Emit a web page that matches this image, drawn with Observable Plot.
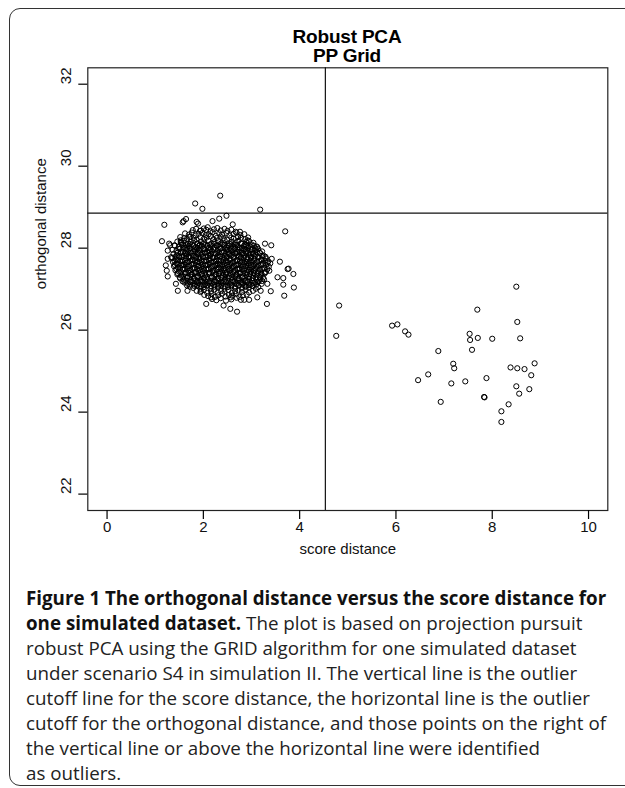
<!DOCTYPE html>
<html>
<head>
<meta charset="utf-8">
<script src="https://cdn.jsdelivr.net/npm/d3@7"></script>
<script src="https://cdn.jsdelivr.net/npm/@observablehq/plot@0.6"></script>
<style>
  html, body { margin: 0; padding: 0; background: #fff; }
  body { width: 625px; height: 788px; overflow: hidden; position: relative; }
  #border { position: absolute; left: 9px; top: 8px; width: 660px; height: 778px; border: 1.5px solid #333; border-radius: 11px; box-sizing: border-box; }
  #chart { position: absolute; left: 0; top: 0; }
  .title { position: absolute; left: 227px; width: 240px; text-align: center; font: bold 19px "Liberation Sans", Arial, sans-serif; color: #000; line-height: 20px; letter-spacing: -0.2px; }
  #caption { position: absolute; left: 26px; top: 585px; font-family: "Open Sans", sans-serif; color: #222; white-space: nowrap; }
  #caption div { height: 25px; line-height: 25px; }
  #caption b { color: #111; }
</style>
</head>
<body>
<div id="border"></div>
<div id="chart"></div>
<div class="title" style="top:27px">Robust PCA</div>
<div class="title" style="top:46px">PP Grid</div>
<div id="caption">
  <div><b>Figure 1 The orthogonal distance versus the score distance for</b></div>
  <div><b>one simulated dataset.</b> The plot is based on projection pursuit</div>
  <div>robust PCA using the GRID algorithm for one simulated dataset</div>
  <div>under scenario S4 in simulation II. The vertical line is the outlier</div>
  <div>cutoff line for the score distance, the horizontal line is the outlier</div>
  <div id="fitline">cutoff for the orthogonal distance, and those points on the right of</div>
  <div>the vertical line or above the horizontal line were identified</div>
  <div>as outliers.</div>
</div>
<script>
// Axis ticks
const xTicks = [0, 2, 4, 6, 8, 10];
const yTicks = [22, 24, 26, 28, 30, 32];
// Cutoff lines
const scoreCutoff = [4.534];
const orthCutoff = [28.856];

// Dense main cluster (score distance, orthogonal distance)
const clusterPts = [
[1.78,28.44],[1.85,28.47],[1.93,28.42],[2.01,28.48],[2.06,28.45],[2.15,28.41],[2.22,28.46],[2.29,28.49],[2.36,28.43],[2.44,28.47],[2.50,28.42],[2.58,28.45],[2.67,28.40],
[1.62,28.36],[1.70,28.33],[1.76,28.38],[1.84,28.31],[1.90,28.35],[1.98,28.37],[2.05,28.32],[2.11,28.34],[2.19,28.39],[2.26,28.30],[2.33,28.36],[2.39,28.33],[2.48,28.37],[2.54,28.31],[2.63,28.35],[2.69,28.38],[2.77,28.32],[2.85,28.34],
[1.52,28.27],[1.60,28.24],[1.66,28.22],[1.73,28.28],[1.80,28.25],[1.86,28.21],[1.94,28.27],[2.01,28.23],[2.07,28.26],[2.15,28.29],[2.21,28.22],[2.28,28.25],[2.36,28.28],[2.42,28.24],[2.49,28.21],[2.58,28.26],[2.63,28.23],[2.72,28.27],[2.78,28.25],[2.87,28.22],[2.93,28.26],
[1.46,28.16],[1.54,28.13],[1.60,28.18],[1.68,28.11],[1.74,28.15],[1.81,28.19],[1.89,28.12],[1.95,28.16],[2.02,28.14],[2.10,28.18],[2.17,28.11],[2.23,28.15],[2.31,28.17],[2.38,28.13],[2.44,28.19],[2.53,28.12],[2.59,28.16],[2.67,28.14],[2.73,28.18],[2.80,28.11],[2.89,28.15],[2.95,28.17],[3.04,28.13],
[1.58,28.09],[1.64,28.07],[1.72,28.10],[1.79,28.06],[1.87,28.11],[1.93,28.08],[2.00,28.10],[2.08,28.06],[2.14,28.09],[2.22,28.11],[2.29,28.07],[2.35,28.10],[2.43,28.08],[2.50,28.06],[2.56,28.10],[2.65,28.09],[2.71,28.07],[2.78,28.11],[2.86,28.08],[2.92,28.06],[3.00,28.09],
[1.41,28.06],[1.49,28.03],[1.55,28.08],[1.63,28.01],[1.70,28.05],[1.76,28.09],[1.84,28.02],[1.91,28.06],[1.97,28.04],[2.05,28.08],[2.12,28.01],[2.18,28.05],[2.27,28.07],[2.33,28.03],[2.40,28.09],[2.48,28.02],[2.53,28.06],[2.62,28.04],[2.68,28.08],[2.75,28.01],[2.84,28.05],[2.89,28.07],[2.98,28.03],[3.05,28.06],[3.11,28.04],
[1.52,27.99],[1.59,28.01],[1.67,27.98],[1.73,28.00],[1.81,27.97],[1.88,28.01],[1.94,27.99],[2.02,27.97],[2.09,28.00],[2.15,27.98],[2.24,28.01],[2.30,27.97],[2.37,27.99],[2.45,28.00],[2.51,27.96],[2.58,27.99],[2.66,28.01],[2.72,27.97],[2.80,28.00],[2.87,27.98],[2.93,28.01],[3.01,27.97],[3.08,27.99],
[1.36,27.96],[1.44,27.93],[1.50,27.98],[1.58,27.91],[1.65,27.95],[1.71,27.99],[1.79,27.92],[1.86,27.96],[1.92,27.94],[2.00,27.98],[2.08,27.91],[2.13,27.95],[2.21,27.97],[2.29,27.93],[2.35,27.99],[2.43,27.92],[2.49,27.96],[2.57,27.94],[2.64,27.98],[2.70,27.91],[2.79,27.95],[2.85,27.97],[2.92,27.93],[3.00,27.96],[3.07,27.94],[3.14,27.98],[3.22,27.92],
[1.47,27.89],[1.54,27.91],[1.62,27.88],[1.69,27.90],[1.76,27.87],[1.83,27.91],[1.90,27.89],[1.97,27.87],[2.04,27.90],[2.11,27.88],[2.18,27.91],[2.26,27.87],[2.32,27.89],[2.40,27.90],[2.46,27.86],[2.54,27.89],[2.61,27.91],[2.68,27.87],[2.75,27.90],[2.82,27.88],[2.89,27.91],[2.96,27.87],[3.04,27.89],[3.11,27.90],[3.18,27.88],
[1.38,27.86],[1.45,27.83],[1.53,27.88],[1.60,27.81],[1.66,27.85],[1.74,27.89],[1.81,27.82],[1.88,27.86],[1.95,27.84],[2.03,27.88],[2.10,27.81],[2.16,27.85],[2.24,27.87],[2.31,27.83],[2.38,27.89],[2.45,27.82],[2.53,27.86],[2.60,27.84],[2.66,27.88],[2.74,27.81],[2.81,27.85],[2.89,27.87],[2.95,27.83],[3.03,27.86],[3.09,27.84],[3.17,27.88],[3.25,27.82],
[1.42,27.79],[1.49,27.81],[1.56,27.78],[1.64,27.80],[1.71,27.77],[1.78,27.81],[1.85,27.79],[1.92,27.77],[1.99,27.80],[2.06,27.78],[2.14,27.81],[2.21,27.77],[2.28,27.79],[2.35,27.80],[2.42,27.76],[2.49,27.79],[2.57,27.81],[2.63,27.77],[2.71,27.80],[2.78,27.78],[2.85,27.81],[2.92,27.77],[2.99,27.79],[3.07,27.80],[3.14,27.78],[3.22,27.81],[3.29,27.79],
[1.35,27.76],[1.43,27.73],[1.50,27.78],[1.57,27.71],[1.64,27.75],[1.71,27.79],[1.78,27.72],[1.85,27.76],[1.92,27.74],[1.99,27.78],[2.06,27.71],[2.13,27.75],[2.20,27.77],[2.27,27.73],[2.35,27.79],[2.42,27.72],[2.48,27.76],[2.56,27.74],[2.63,27.78],[2.70,27.71],[2.78,27.75],[2.84,27.77],[2.92,27.73],[2.99,27.76],[3.06,27.74],[3.14,27.78],[3.21,27.72],[3.30,27.75],
[1.40,27.69],[1.47,27.71],[1.55,27.68],[1.62,27.70],[1.69,27.67],[1.76,27.71],[1.83,27.69],[1.90,27.67],[1.97,27.70],[2.05,27.68],[2.12,27.71],[2.19,27.67],[2.26,27.69],[2.33,27.70],[2.40,27.66],[2.47,27.69],[2.55,27.71],[2.62,27.67],[2.69,27.70],[2.76,27.68],[2.83,27.71],[2.90,27.67],[2.98,27.69],[3.05,27.70],[3.12,27.68],[3.20,27.71],[3.28,27.69],[3.35,27.68],
[1.37,27.66],[1.44,27.63],[1.52,27.68],[1.59,27.61],[1.66,27.65],[1.73,27.69],[1.80,27.62],[1.87,27.66],[1.94,27.64],[2.01,27.68],[2.09,27.61],[2.16,27.65],[2.23,27.67],[2.30,27.63],[2.37,27.69],[2.44,27.62],[2.51,27.66],[2.59,27.64],[2.66,27.68],[2.73,27.61],[2.80,27.65],[2.87,27.67],[2.94,27.63],[3.02,27.66],[3.09,27.64],[3.16,27.68],[3.24,27.62],[3.33,27.65],[3.39,27.63],
[1.41,27.59],[1.48,27.61],[1.56,27.58],[1.63,27.60],[1.70,27.57],[1.77,27.61],[1.84,27.59],[1.91,27.57],[1.98,27.60],[2.06,27.58],[2.13,27.61],[2.20,27.57],[2.27,27.59],[2.34,27.60],[2.41,27.56],[2.49,27.59],[2.56,27.61],[2.63,27.57],[2.70,27.60],[2.77,27.58],[2.85,27.61],[2.92,27.57],[2.99,27.59],[3.06,27.60],[3.14,27.58],[3.21,27.61],[3.30,27.59],
[1.39,27.56],[1.47,27.53],[1.54,27.58],[1.61,27.51],[1.68,27.55],[1.75,27.59],[1.82,27.52],[1.89,27.56],[1.96,27.54],[2.04,27.58],[2.11,27.51],[2.18,27.55],[2.25,27.57],[2.32,27.53],[2.39,27.59],[2.46,27.52],[2.54,27.56],[2.61,27.54],[2.68,27.58],[2.75,27.51],[2.82,27.55],[2.89,27.57],[2.97,27.53],[3.04,27.56],[3.11,27.54],[3.19,27.58],[3.27,27.52],[3.36,27.55],
[1.44,27.49],[1.51,27.51],[1.58,27.48],[1.66,27.50],[1.73,27.47],[1.80,27.51],[1.87,27.49],[1.94,27.47],[2.01,27.50],[2.09,27.48],[2.16,27.51],[2.23,27.47],[2.30,27.49],[2.37,27.50],[2.44,27.46],[2.52,27.49],[2.59,27.51],[2.66,27.47],[2.73,27.50],[2.80,27.48],[2.87,27.51],[2.95,27.47],[3.02,27.49],[3.09,27.50],[3.17,27.48],[3.25,27.51],[3.33,27.49],
[1.42,27.46],[1.49,27.43],[1.57,27.48],[1.64,27.41],[1.71,27.45],[1.78,27.49],[1.85,27.42],[1.92,27.46],[1.99,27.44],[2.06,27.48],[2.13,27.41],[2.21,27.45],[2.28,27.47],[2.35,27.43],[2.42,27.49],[2.49,27.42],[2.56,27.46],[2.63,27.44],[2.71,27.48],[2.78,27.41],[2.85,27.45],[2.92,27.47],[2.99,27.43],[3.07,27.46],[3.14,27.44],[3.22,27.48],[3.30,27.42],
[1.47,27.39],[1.54,27.41],[1.62,27.38],[1.69,27.40],[1.76,27.37],[1.83,27.41],[1.90,27.39],[1.97,27.37],[2.04,27.40],[2.12,27.38],[2.19,27.41],[2.26,27.37],[2.33,27.39],[2.40,27.40],[2.47,27.36],[2.55,27.39],[2.62,27.41],[2.69,27.37],[2.76,27.40],[2.83,27.38],[2.91,27.41],[2.98,27.37],[3.05,27.39],[3.13,27.40],[3.20,27.38],[3.28,27.41],
[1.46,27.36],[1.54,27.33],[1.61,27.38],[1.68,27.31],[1.75,27.35],[1.82,27.39],[1.89,27.32],[1.97,27.36],[2.04,27.34],[2.11,27.38],[2.18,27.31],[2.25,27.35],[2.32,27.37],[2.40,27.33],[2.47,27.39],[2.54,27.32],[2.61,27.36],[2.68,27.34],[2.75,27.38],[2.83,27.31],[2.90,27.35],[2.97,27.37],[3.04,27.33],[3.12,27.36],[3.19,27.34],[3.27,27.38],
[1.51,27.29],[1.58,27.31],[1.66,27.28],[1.73,27.30],[1.80,27.27],[1.87,27.31],[1.94,27.29],[2.01,27.27],[2.08,27.30],[2.16,27.28],[2.23,27.31],[2.30,27.27],[2.37,27.29],[2.44,27.30],[2.51,27.26],[2.59,27.29],[2.66,27.31],[2.73,27.27],[2.80,27.30],[2.87,27.28],[2.95,27.31],[3.02,27.27],[3.09,27.29],[3.17,27.30],[3.24,27.28],
[1.52,27.26],[1.59,27.23],[1.66,27.28],[1.74,27.21],[1.81,27.25],[1.88,27.29],[1.95,27.22],[2.02,27.26],[2.09,27.24],[2.17,27.28],[2.24,27.21],[2.31,27.25],[2.38,27.27],[2.45,27.23],[2.52,27.29],[2.60,27.22],[2.67,27.26],[2.74,27.24],[2.81,27.28],[2.88,27.21],[2.95,27.25],[3.03,27.27],[3.10,27.23],[3.18,27.26],[3.26,27.24],
[1.57,27.19],[1.64,27.21],[1.72,27.18],[1.79,27.20],[1.86,27.17],[1.93,27.21],[2.00,27.19],[2.07,27.17],[2.14,27.20],[2.22,27.18],[2.29,27.21],[2.36,27.17],[2.43,27.19],[2.50,27.20],[2.57,27.16],[2.65,27.19],[2.72,27.21],[2.79,27.17],[2.86,27.20],[2.93,27.18],[3.01,27.21],[3.08,27.17],[3.15,27.19],[3.22,27.20],
[1.61,27.16],[1.68,27.13],[1.76,27.18],[1.83,27.11],[1.90,27.15],[1.97,27.19],[2.04,27.12],[2.12,27.16],[2.19,27.14],[2.26,27.18],[2.33,27.11],[2.40,27.15],[2.47,27.17],[2.55,27.13],[2.62,27.19],[2.69,27.12],[2.76,27.16],[2.83,27.14],[2.91,27.18],[2.98,27.11],[3.05,27.15],[3.13,27.17],[3.21,27.13],
[1.66,27.09],[1.73,27.11],[1.81,27.08],[1.88,27.10],[1.95,27.07],[2.02,27.11],[2.09,27.09],[2.16,27.07],[2.23,27.10],[2.31,27.08],[2.38,27.11],[2.45,27.07],[2.52,27.09],[2.59,27.10],[2.66,27.06],[2.74,27.09],[2.81,27.11],[2.88,27.07],[2.95,27.10],[3.02,27.08],[3.10,27.11],
[1.72,27.06],[1.79,27.03],[1.87,27.08],[1.94,27.01],[2.01,27.05],[2.08,27.09],[2.15,27.02],[2.23,27.06],[2.30,27.04],[2.37,27.08],[2.44,27.01],[2.51,27.05],[2.58,27.07],[2.66,27.03],[2.73,27.09],[2.80,27.02],[2.87,27.06],[2.94,27.04],[3.02,27.08],[3.09,27.01],[3.14,27.05],
[1.86,26.96],[1.94,26.93],[2.01,26.98],[2.08,26.91],[2.16,26.95],[2.23,26.99],[2.30,26.92],[2.37,26.96],[2.44,26.94],[2.52,26.98],[2.59,26.91],[2.66,26.95],[2.73,26.97],[2.80,26.93],[2.88,26.99],[2.95,26.92],[3.03,26.96],
[2.02,26.86],[2.10,26.83],[2.17,26.88],[2.24,26.81],[2.31,26.85],[2.39,26.89],[2.46,26.82],[2.53,26.86],[2.60,26.84],[2.67,26.88],[2.75,26.81],[2.82,26.85],[2.90,26.87],
[2.18,26.76],[2.27,26.73],[2.36,26.78],[2.47,26.72],[2.58,26.75],[2.69,26.79],[2.78,26.74]
];

// Sparse points around the cluster edge
const edgePts = [
[1.19,28.57],[1.14,28.17],[1.29,28.11],[1.40,28.07],[1.53,28.15],[1.59,28.66],[1.64,28.71],[1.57,28.63],[1.86,28.64],[1.89,28.60],
[2.19,28.66],[2.33,28.72],[2.48,28.79],[2.61,28.58],[2.76,28.40],[2.92,28.19],[3.28,28.11],[3.41,28.07],[3.12,28.02],[3.70,28.41],
[3.42,27.74],[3.59,27.67],[3.54,27.29],[3.66,27.27],[3.77,27.50],[3.87,27.37],[3.37,27.45],[3.88,27.04],[3.66,27.11],[3.68,26.84],
[3.33,27.13],[3.32,26.64],[3.19,26.96],[3.12,26.80],[2.85,26.74],[2.95,26.74],[2.57,26.80],[2.70,26.45],[2.56,26.52],[2.42,26.60],
[2.06,26.64],[2.16,26.80],[1.95,26.96],[1.67,26.96],[1.47,26.96],[1.43,27.13],[1.26,27.31],[1.24,27.45],[1.22,27.58],[1.26,27.74],
[1.33,27.78],[1.26,27.94],[1.31,28.07],[1.53,28.19],[1.71,28.27],[1.95,28.43],[2.09,28.51],[3.75,27.49],[3.40,26.95],
[1.83,29.09],[1.98,28.96],[2.35,29.28],[3.18,28.94]
];

// Outlying points to the right of the score cutoff
const outlierPts = [
[4.82,26.60],[4.76,25.86],[5.92,26.11],[6.03,26.14],[6.19,25.97],[6.26,25.89],
[8.50,27.06],[7.69,26.50],[8.52,26.20],[7.53,25.91],[7.70,25.81],[7.54,25.76],[8.00,25.79],[8.58,25.80],
[7.58,25.52],[6.88,25.49],[7.19,25.18],[7.21,25.07],[8.38,25.09],[8.52,25.07],[8.67,25.05],[8.88,25.19],
[8.81,24.90],[6.67,24.92],[6.46,24.78],[7.15,24.70],[7.44,24.75],[7.88,24.83],[8.50,24.63],[8.56,24.45],
[8.77,24.56],[7.83,24.37],[7.84,24.36],[6.93,24.25],[8.34,24.19],[8.19,24.02],[8.19,23.76]
];

const allPts = clusterPts.concat(edgePts, outlierPts).map(([x, y]) => ({x, y}));

const chart = Plot.plot({
  width: 625,
  height: 570,
  marginLeft: 87.3,
  marginRight: 17.7,
  marginTop: 67.3,
  marginBottom: 60,
  x: {domain: [-0.4, 10.4]},
  y: {domain: [21.6, 32.4]},
  style: {fontFamily: "'Liberation Sans', Arial, sans-serif", fontSize: "15px", background: "transparent", color: "#000"},
  marks: [
    Plot.frame({stroke: "#222", strokeWidth: 1.2}),
    Plot.axisX({ticks: xTicks, tickSize: 9, tickFormat: () => "", label: null, strokeWidth: 1.2}),
    Plot.axisY({ticks: yTicks, tickSize: 9, tickFormat: () => "", label: null, strokeWidth: 1.2}),
    Plot.text(xTicks, {x: d => d, frameAnchor: "bottom", dy: 21, text: d => String(d), fontSize: 15, fill: "#111"}),
    Plot.text(yTicks, {y: d => d, frameAnchor: "left", dx: -22, rotate: -90, text: d => String(d), fontSize: 15, fill: "#111"}),
    Plot.text(["score distance"], {frameAnchor: "bottom", dy: 43, fontSize: 15, fill: "#111"}),
    Plot.text(["orthogonal distance"], {frameAnchor: "left", dx: -47, rotate: -90, fontSize: 15, fill: "#111"}),
    Plot.ruleX(scoreCutoff, {stroke: "#111", strokeWidth: 1.2}),
    Plot.ruleY(orthCutoff, {stroke: "#111", strokeWidth: 1.2}),
    Plot.dot(allPts, {x: "x", y: "y", r: 2.6, stroke: "#000", strokeWidth: 1, fill: "none"})
  ]
});
document.getElementById("chart").appendChild(chart);

// Fit caption font size so the long line spans the caption width
(function fitCaption() {
  const ctx = document.createElement("canvas").getContext("2d");
  ctx.font = '100px "Open Sans"';
  const w = ctx.measureText(document.getElementById("fitline").textContent).width;
  const size = 100 * 580 / w;
  document.getElementById("caption").style.fontSize = size.toFixed(2) + "px";
})();
</script>
</body>
</html>
